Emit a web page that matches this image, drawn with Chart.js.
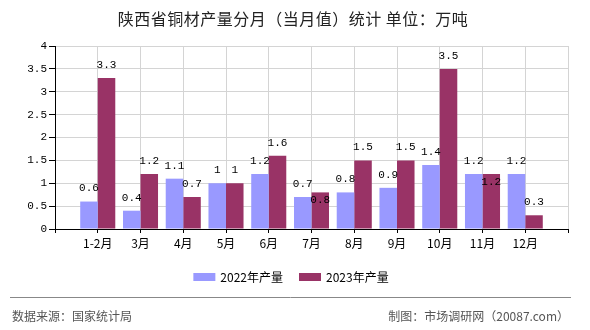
<!DOCTYPE html>
<html lang="zh">
<head>
<meta charset="UTF-8">
<title>陕西省铜材产量分月（当月值）统计</title>
<style>
  html, body { margin: 0; padding: 0; background: #fff; }
  #wrap { width: 590px; height: 330px; }
</style>
</head>
<body>
<div id="wrap"><canvas id="chart" width="590" height="330"></canvas></div>
<script src="https://cdn.jsdelivr.net/npm/chart.js@4.4.0/dist/chart.umd.min.js"></script>
<script>
// data
const months = ['1-2月', '3月', '4月', '5月', '6月', '7月', '8月', '9月', '10月', '11月', '12月']
const output2022 = [0.6, 0.4, 1.1, 1, 1.2, 0.7, 0.8, 0.9, 1.4, 1.2, 1.2]
const output2023 = [3.3, 1.2, 0.7, 1, 1.6, 0.8, 1.5, 1.5, 3.5, 1.2, 0.3]
const seriesNames = ['2022年产量', '2023年产量']
const yTickLabels = ['0', '0.5', '1', '1.5', '2', '2.5', '3', '3.5', '4']

const titleText = '陕西省铜材产量分月（当月值）统计 单位：万吨'
const sourceText = '数据来源：国家统计局'
const makerText = '制图：市场调研网（20087.com）'

const cjk = '"Noto Sans CJK SC", "Liberation Sans", sans-serif'
const mono = '"Liberation Mono", "DejaVu Sans Mono", monospace'

// blank slot on each side of the month axis, like the original
const labels = [''].concat(months, [''])
const pad = arr => [null].concat(arr, [null])

// value labels above bars; a label that would hit its neighbour goes inside the bar
const valueLabels = {
    id: 'valueLabels',
    afterDatasetsDraw(chart) {
        const ctx = chart.ctx
        ctx.save()
        ctx.font = '11px ' + mono
        ctx.fillStyle = '#000'
        ctx.textAlign = 'center'
        ctx.textBaseline = 'middle'
        const placed = {}
        chart.data.datasets.forEach((ds, di) => {
            const meta = chart.getDatasetMeta(di)
            meta.data.forEach((bar, i) => {
                const v = ds.data[i]
                if (v === null || v === undefined) return
                const txt = String(v)
                const w = ctx.measureText(txt).width
                let y = bar.y - 13
                const prev = placed[i]
                if (prev) {
                    const hit = Math.abs(prev.x - bar.x) < (prev.w + w) / 2 && Math.abs(prev.y - y) < 11
                    if (hit) y = bar.y + 8
                }
                placed[i] = { x: bar.x, y: y, w: w }
                ctx.fillText(txt, bar.x, y)
            })
        })
        ctx.restore()
    }
}

// title, legend and footer
const decorations = {
    id: 'decorations',
    afterDraw(chart) {
        const ctx = chart.ctx
        ctx.save()
        ctx.textBaseline = 'middle'

        ctx.font = '16px ' + cjk
        ctx.fillStyle = '#222'
        ctx.textAlign = 'center'
        ctx.letterSpacing = '0.5px'
        ctx.fillText(titleText, 293, 19)
        ctx.letterSpacing = '0px'

        ctx.font = '12px ' + cjk
        ctx.textAlign = 'left'
        const boxW = 22, boxH = 8, gap = 5, itemGap = 16
        const widths = chart.data.datasets.map(ds => ctx.measureText(ds.label).width)
        let total = 0
        widths.forEach((w, i) => { total += boxW + gap + w + (i ? itemGap : 0) })
        let x = 291 - total / 2
        chart.data.datasets.forEach((ds, i) => {
            ctx.fillStyle = ds.backgroundColor
            ctx.fillRect(x, 273, boxW, boxH)
            ctx.fillStyle = '#000'
            ctx.fillText(ds.label, x + boxW + gap, 277)
            x += boxW + gap + widths[i] + itemGap
        })

        ctx.strokeStyle = '#888'
        ctx.lineWidth = 1
        ctx.beginPath()
        ctx.moveTo(10, 297.5)
        ctx.lineTo(571, 297.5)
        ctx.stroke()

        ctx.fillStyle = '#555'
        ctx.font = '12px ' + cjk
        ctx.textAlign = 'left'
        ctx.fillText(sourceText, 12, 316)
        ctx.textAlign = 'right'
        ctx.fillText(makerText, 569, 316)
        ctx.restore()
    }
}

const chartData = {
    labels: labels,
    datasets: [
        {
            label: seriesNames[0],
            data: pad(output2022),
            backgroundColor: '#9999FF'
        },
        {
            label: seriesNames[1],
            data: pad(output2023),
            backgroundColor: '#993366'
        }
    ]
}

const barConfig = {
    type: 'bar',
    data: chartData,
    plugins: [valueLabels, decorations],
    options: {
        responsive: false,
        animation: false,
        events: [],
        categoryPercentage: 0.82,
        barPercentage: 1,
        layout: {
            padding: { left: 10, right: 22, top: 46, bottom: 71 }
        },
        plugins: {
            legend: { display: false },
            title: { display: false },
            tooltip: { enabled: false }
        },
        scales: {
            x: {
                offset: false,
                grid: {
                    offset: false,
                    color: '#d4d4d4',
                    tickColor: '#000',
                    tickLength: 4
                },
                border: { color: '#000' },
                ticks: {
                    autoSkip: false,
                    maxRotation: 0,
                    padding: 3,
                    color: '#000',
                    font: { family: cjk, size: 12 }
                },
                afterFit(scale) { scale.height = 30 }
            },
            y: {
                min: 0,
                max: 4,
                grid: {
                    color: '#d4d4d4',
                    tickColor: '#000',
                    tickLength: 6
                },
                border: { color: '#000' },
                ticks: {
                    stepSize: 0.5,
                    padding: 2,
                    color: '#000',
                    font: { family: mono, size: 11 },
                    callback: (v, i) => yTickLabels[i]
                },
                afterFit(scale) { scale.width = 45 }
            }
        }
    }
}

const barChart = new Chart(document.getElementById('chart'), barConfig)
</script>
</body>
</html>
